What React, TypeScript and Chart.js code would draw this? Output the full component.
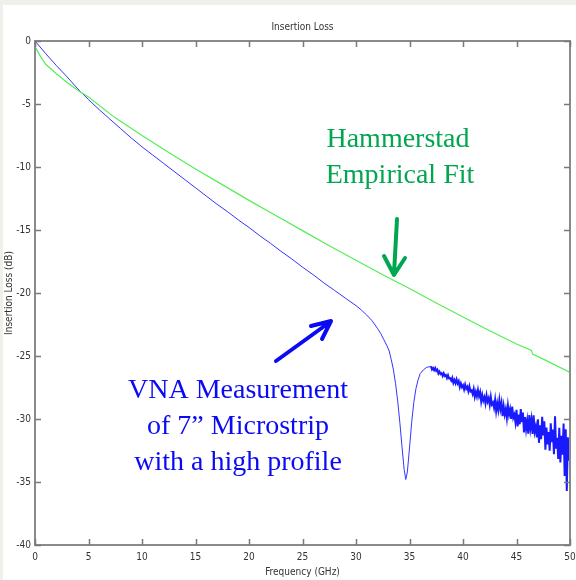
import React, { useEffect, useRef } from 'react';
import { Chart, registerables } from 'chart.js';

Chart.register(...registerables);

const chartTitle = 'Insertion Loss';
const xAxisTitle = 'Frequency (GHz)';
const yAxisTitle = 'Insertion Loss (dB)';

const xMin = 0;
const xMax = 50;
const xStep = 5;
const yMin = -40;
const yMax = 0;
const yStep = 5;

// VNA measurement, smooth part (GHz, dB)
const measFreq = [
  0, 1, 2, 3, 4, 5, 6, 7, 8, 9, 10, 11, 12, 13, 14, 15, 16, 17, 18, 19, 20,
  21, 22, 23, 24, 25, 26, 27, 28, 29, 30, 30.5, 31, 31.5, 32, 32.3, 32.6, 32.9,
  33.1, 33.3, 33.5, 33.7, 33.9, 34.1, 34.3, 34.5, 34.65, 34.8, 35.0, 35.2, 35.4,
  35.6, 35.8, 36.0, 36.3, 36.6, 36.9, 37.0,
];
const measLoss = [
  0, -1.0, -1.95, -2.85, -3.8, -4.65, -5.45, -6.2, -6.95, -7.7, -8.4, -9.05,
  -9.7, -10.35, -11.0, -11.65, -12.3, -12.95, -13.55, -14.2, -14.8, -15.45,
  -16.05, -16.7, -17.3, -17.95, -18.55, -19.2, -19.8, -20.4, -21.0, -21.35,
  -21.75, -22.2, -22.8, -23.2, -23.7, -24.2, -24.6, -25.3, -26.1, -27.2, -28.6,
  -30.3, -32.2, -34.0, -34.8, -34.2, -32.3, -30.3, -28.7, -27.6, -26.9, -26.4,
  -26.1, -25.9, -25.85, -25.81,
];

// VNA measurement, noisy tail sampled every 0.1 GHz from 37.0 GHz
const tailStartGHz = 37.0;
const tailStepGHz = 0.1;
const tailLoss = [
  -25.81, -26.07, -25.95, -26.13, -25.96, -26.18, -26.08, -26.39, -26.23, -26.43,
  -26.36, -26.58, -26.37, -26.59, -26.51, -26.75, -26.53, -26.79, -26.76, -26.95,
  -26.73, -27.13, -26.9, -27.16, -26.85, -27.18, -26.99, -27.47, -27.17, -27.47,
  -27.32, -27.65, -27.27, -27.6, -27.44, -27.8, -27.41, -27.81, -27.73, -28.01,
  -27.62, -28.23, -27.84, -28.21, -27.7, -28.19, -27.87, -28.6, -28.09, -28.54,
  -28.27, -28.76, -28.13, -28.62, -28.35, -28.88, -28.24, -28.85, -28.7, -29.11,
  -28.48, -29.37, -28.76, -29.29, -28.5, -29.21, -28.71, -29.78, -28.99, -29.64,
  -29.21, -29.92, -28.95, -29.66, -29.23, -30.0, -29.02, -29.91, -29.66, -30.25,
  -29.28, -30.59, -29.65, -30.42, -29.21, -30.25, -29.48, -31.06, -29.85, -30.8,
  -30.13, -31.17, -29.69, -30.73, -30.06, -31.19, -29.7, -31.01, -30.61, -31.47,
  -30.02, -31.89, -30.51, -31.6, -29.83, -31.31, -30.18, -32.44, -30.67, -32.02,
  -31.03, -32.51, -30.35, -31.83, -30.84, -32.8, -29.78, -32.35, -31.5, -33.17,
  -30.7, -33.45, -31.34, -32.83, -30.36, -34.53, -30.81, -35.72, -31.45, -33.3,
  -31.91,
];

// Hammerstad empirical fit (GHz, dB)
const fitFreq = [
  0, 0.5, 1, 2, 3, 4, 5, 7.5, 10, 12.5, 15, 17.5, 20, 22.5, 25, 27.5, 30, 32.5,
  35, 37.5, 40, 42.5, 45, 46.4, 46.5, 47.5, 50,
];
const fitLoss = [
  -0.45, -1.2, -1.85, -2.6, -3.3, -3.9, -4.45, -6.1, -7.5, -8.85, -10.15, -11.4,
  -12.65, -13.85, -15.05, -16.25, -17.4, -18.55, -19.65, -20.8, -21.9, -23.0,
  -24.05, -24.55, -24.85, -25.25, -26.3,
];

const greenNote = ['Hammerstad', 'Empirical Fit'];
const blueNote = ['VNA Measurement', 'of 7\u201d Microstrip', 'with a high profile'];

const narrowFont = '"Liberation Sans Narrow", "DejaVu Sans Condensed", "Liberation Sans", Arial, sans-serif';
const serifFont = '"Liberation Serif", "Times New Roman", serif';

const decorPlugin = {
  id: 'decor',
  beforeDraw(chart: any) {
    const ctx = chart.ctx;
    ctx.save();
    ctx.fillStyle = '#f0efea';
    ctx.fillRect(0, 0, chart.width, chart.height);
    ctx.fillStyle = '#ffffff';
    ctx.fillRect(3, 5, chart.width - 3, chart.height - 5);
    ctx.restore();
  },
  afterDatasetsDraw(chart: any) {
    const ctx = chart.ctx;
    const { left, right, top, bottom } = chart.chartArea;
    const xs = chart.scales.x;
    const ys = chart.scales.y;
    ctx.save();
    ctx.strokeStyle = '#8a8a8a';
    ctx.lineWidth = 2;
    ctx.strokeRect(left, top, right - left, bottom - top);
    ctx.lineWidth = 1.5;
    ctx.strokeStyle = '#7a7a7a';
    const tl = 6;
    for (let v = xMin; v <= xMax; v += xStep) {
      const px = Math.round(xs.getPixelForValue(v)) + 0.5;
      ctx.beginPath();
      ctx.moveTo(px, bottom);
      ctx.lineTo(px, bottom - tl);
      ctx.moveTo(px, top);
      ctx.lineTo(px, top + tl);
      ctx.stroke();
    }
    for (let v = yMin; v <= yMax; v += yStep) {
      const py = Math.round(ys.getPixelForValue(v)) + 0.5;
      ctx.beginPath();
      ctx.moveTo(left, py);
      ctx.lineTo(left + tl, py);
      ctx.moveTo(right, py);
      ctx.lineTo(right - tl, py);
      ctx.stroke();
    }
    ctx.fillStyle = '#333333';
    ctx.font = `10px ${narrowFont}`;
    ctx.textAlign = 'center';
    ctx.textBaseline = 'middle';
    ctx.fillText(chartTitle, (left + right) / 2, 27);
    ctx.fillText(xAxisTitle, (left + right) / 2, 572);
    ctx.save();
    ctx.translate(9, (top + bottom) / 2);
    ctx.rotate(-Math.PI / 2);
    ctx.fillText(yAxisTitle, 0, 0);
    ctx.restore();

    ctx.fillStyle = '#00a650';
    ctx.font = `28px ${serifFont}`;
    ctx.textAlign = 'center';
    ctx.textBaseline = 'alphabetic';
    ctx.fillText(greenNote[0], 398, 147);
    ctx.fillText(greenNote[1], 400, 183);
    ctx.strokeStyle = '#00a650';
    ctx.lineWidth = 4;
    ctx.lineCap = 'round';
    ctx.lineJoin = 'round';
    ctx.beginPath();
    ctx.moveTo(397, 219);
    ctx.lineTo(394, 274);
    ctx.moveTo(384, 256);
    ctx.lineTo(394, 275);
    ctx.lineTo(405, 258);
    ctx.stroke();

    ctx.fillStyle = '#0a0af5';
    ctx.fillText(blueNote[0], 238, 398);
    ctx.fillText(blueNote[1], 238, 434);
    ctx.fillText(blueNote[2], 238, 470);
    ctx.strokeStyle = '#0a0af5';
    ctx.beginPath();
    ctx.moveTo(276, 361);
    ctx.lineTo(330, 322);
    ctx.moveTo(311, 326);
    ctx.lineTo(331, 321);
    ctx.lineTo(322, 339);
    ctx.stroke();
    ctx.restore();
  },
};

export default function App() {
  const ref = useRef<HTMLCanvasElement | null>(null);

  useEffect(() => {
    if (!ref.current) return;
    const measData = measFreq.map((f, i) => ({ x: f, y: measLoss[i] }));
    const tailData = tailLoss.map((v, i) => ({ x: +(tailStartGHz + i * tailStepGHz).toFixed(2), y: v }));
    const fitData = fitFreq.map((f, i) => ({ x: f, y: fitLoss[i] }));

    const chart = new Chart(ref.current, {
      type: 'line',
      data: {
        datasets: [
          {
            label: 'Hammerstad Empirical Fit',
            data: fitData,
            borderColor: '#55ee55',
            borderWidth: 1.2,
            pointRadius: 0,
            tension: 0,
          },
          {
            label: 'VNA Measurement',
            data: measData,
            borderColor: '#3535ff',
            borderWidth: 1,
            pointRadius: 0,
            tension: 0,
          },
          {
            label: 'VNA Measurement (noisy)',
            data: tailData,
            borderColor: '#1a1aff',
            borderWidth: 2,
            pointRadius: 0,
            tension: 0,
          },
        ],
      },
      options: {
        animation: false,
        responsive: false,
        maintainAspectRatio: false,
        events: [],
        layout: { padding: { top: 41, right: 6, left: 0, bottom: 0 } },
        plugins: {
          legend: { display: false },
          title: { display: false },
          tooltip: { enabled: false },
        },
        scales: {
          x: {
            type: 'linear',
            min: xMin,
            max: xMax,
            grid: { display: false, drawTicks: false },
            border: { display: false },
            ticks: {
              stepSize: xStep,
              padding: 6,
              maxRotation: 0,
              color: '#333333',
              font: { size: 10, family: narrowFont },
            },
            afterFit: (s: any) => {
              s.height = 35;
              s.paddingLeft = 0;
              s.paddingRight = 0;
            },
          },
          y: {
            type: 'linear',
            min: yMin,
            max: yMax,
            grid: { display: false, drawTicks: false },
            border: { display: false },
            ticks: {
              stepSize: yStep,
              padding: 4,
              color: '#333333',
              font: { size: 10, family: narrowFont },
            },
            afterFit: (s: any) => {
              s.width = 35;
              s.paddingTop = 0;
              s.paddingBottom = 0;
            },
          },
        },
      },
      plugins: [decorPlugin],
    });
    return () => chart.destroy();
  }, []);

  return (
    <div style={{ position: 'fixed', left: 0, top: 0, width: 576, height: 580 }}>
      <canvas ref={ref} width={576} height={580} style={{ width: 576, height: 580, display: 'block' }} />
    </div>
  );
}
